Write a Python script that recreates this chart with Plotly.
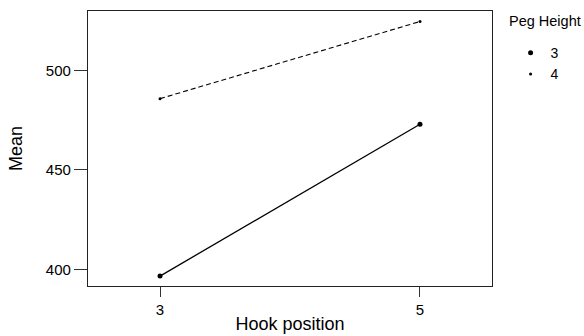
import plotly.graph_objects as go

hook_position = [3, 5]
peg_heights = ["3", "4"]
mean_peg3 = [396.6, 473.0]
mean_peg4 = [485.9, 524.7]
y_ticks = [400, 450, 500]
x_ticks = [3, 5]

FONT = "Liberation Sans, Arial, sans-serif"

fig = go.Figure()
fig.add_trace(go.Scatter(x=hook_position, y=mean_peg3, mode="lines+markers",
                         line=dict(color="black", width=1.3),
                         marker=dict(color="black", size=5), showlegend=False))
fig.add_trace(go.Scatter(x=hook_position, y=mean_peg4, mode="lines+markers",
                         line=dict(color="black", width=1.1, dash="5px,3px"),
                         marker=dict(color="black", size=3), showlegend=False))
# legend entries (markers only)
fig.add_trace(go.Scatter(x=[None], y=[None], mode="markers", name=peg_heights[0],
                         marker=dict(color="black", size=5)))
fig.add_trace(go.Scatter(x=[None], y=[None], mode="markers", name=peg_heights[1],
                         marker=dict(color="black", size=3)))

fig.add_annotation(text="Peg Height", xref="paper", yref="paper",
                   x=1.038, y=0.9636, xanchor="left", yanchor="middle",
                   showarrow=False, font=dict(size=14.5, color="black"))

fig.update_layout(
    width=584, height=336,
    margin=dict(l=88, r=92, t=11, b=50),
    paper_bgcolor="white", plot_bgcolor="white",
    font=dict(family=FONT, color="black", size=14),
    legend=dict(x=1.046, y=0.905, xanchor="left", yanchor="top",
                font=dict(size=14), bgcolor="rgba(0,0,0,0)",
                itemwidth=30, tracegroupgap=0),
    xaxis=dict(range=[2.446, 5.554], tickvals=x_ticks, ticktext=[str(v) for v in x_ticks],
               automargin=False,
               showgrid=False, zeroline=False, showline=True, mirror=True,
               linecolor="#222", linewidth=1.2, ticks="outside", ticklen=10,
               tickcolor="#333", tickfont=dict(size=15),
               title=dict(text="Hook position", font=dict(size=18), standoff=0)),
    yaxis=dict(range=[391.6, 530.0], tickvals=y_ticks, automargin=False,
               showgrid=False, zeroline=False, showline=True, mirror=True,
               linecolor="#222", linewidth=1.2, ticks="outside", ticklen=13,
               tickcolor="#333", tickfont=dict(size=15),
               title=dict(text="Mean", font=dict(size=18), standoff=18)),
)

fig.write_html("out.html", config={"displayModeBar": False},
               post_script="document.body.style.margin='0';document.body.style.overflow='hidden';")
